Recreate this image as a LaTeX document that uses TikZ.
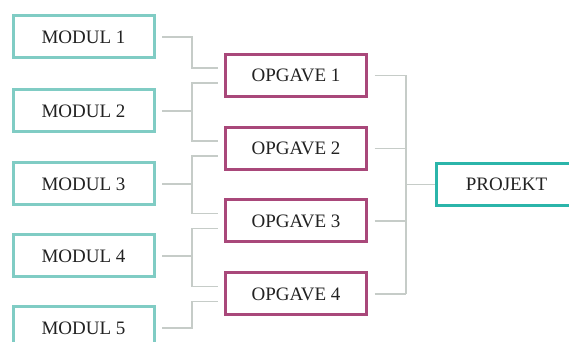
\documentclass[tikz,border=0pt]{standalone}
\usepackage{fontspec}
\setmainfont{Liberation Serif}
\usetikzlibrary{calc}
\definecolor{modcol}{HTML}{80CCC4}
\definecolor{projcol}{HTML}{2BB5AA}
\definecolor{opgcol}{HTML}{A9487A}
\definecolor{conncol}{HTML}{C6CCC8}
\definecolor{txtcol}{HTML}{222222}
\tikzset{
	box/.style={draw, line width=1.5pt, fill=white, text=txtcol, font=\fontsize{9.5}{11}\selectfont, minimum width=70.5pt, minimum height=21pt, inner sep=0pt, outer xsep=4pt},
	mod/.style={box, draw=modcol},
	opg/.style={box, draw=opgcol},
	proj/.style={box, draw=projcol, outer xsep=0.75pt},
	conn/.style={draw=conncol, line width=0.6pt}
}

\begin{document}
\begin{tikzpicture}[x=0.5pt, y=-0.5pt]
			%%%%% START %%%%%
			
			\clip (0, 0) rectangle (569, 342);
			
			\node[mod] (m1) at (83.5, 37) {MODUL 1};
			\node[mod] (m2) at (83.5, 111) {MODUL 2};
			\node[mod] (m3) at (83.5, 184) {MODUL 3};
			\node[mod] (m4) at (83.5, 256) {MODUL 4};
			\node[mod] (m5) at (83.5, 328) {MODUL 5};
			
			\node[opg] (o1) at (296, 75.5) {OPGAVE 1};
			\node[opg] (o2) at (296, 148.5) {OPGAVE 2};
			\node[opg] (o3) at (296, 221) {OPGAVE 3};
			\node[opg] (o4) at (296, 294) {OPGAVE 4};
			
			\node[proj] (pr) at (506.5, 184.5) {PROJEKT};
			
			\coordinate (busL) at (192, 0);
			\coordinate (busR) at (406, 0);
			\foreach \k in {1,...,4} {
				\coordinate (o\k-hi) at ($(o\k.west)+(0, -7.5)$);
				\coordinate (o\k-lo) at ($(o\k.west)+(0, 7.5)$);
			}
			
			% left side
			\draw[conn] (m1.east) -| (busL |- o1-hi) -- (o1-hi);
			\foreach \m/\a/\b in {2/1/2, 3/2/3, 4/3/4} {
				\draw[conn] (o\a-lo) -- (busL |- o\a-lo) -- (busL |- o\b-hi) -- (o\b-hi);
				\draw[conn] (m\m.east) -- (busL |- m\m.east);
			}
			\draw[conn] (m5.east) -| (busL |- o4-lo) -- (o4-lo);
			
			% right side
			\foreach \k in {1,...,4}
				\draw[conn] (o\k.east) -- (busR |- o\k.east);
			\draw[conn] (busR |- o1.east) -- (busR |- o4.east);
			\draw[conn] (busR |- pr.west) -- (pr.west);
			
			%%%%% END %%%%%
\end{tikzpicture}
\end{document}
